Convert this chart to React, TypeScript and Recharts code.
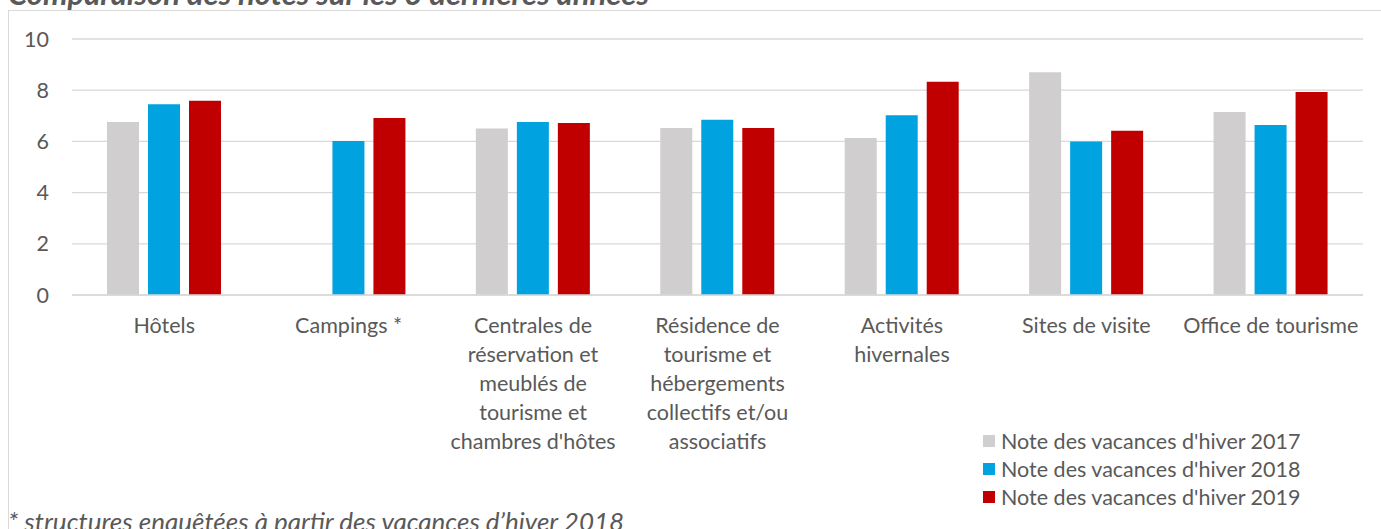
import { Bar, BarChart, CartesianGrid, XAxis, YAxis } from "recharts";

const categories = [
  "Hôtels",
  "Campings *",
  "Centrales de\nréservation et\nmeublés de\ntourisme et\nchambres d'hôtes",
  "Résidence de\ntourisme et\nhébergements\ncollectifs et/ou\nassociatifs",
  "Activités\nhivernales",
  "Sites de visite",
  "Office de tourisme",
];

const note2017 = [6.76, null, 6.5, 6.52, 6.13, 8.7, 7.15];
const note2018 = [7.45, 6.02, 6.76, 6.85, 7.02, 6.0, 6.64];
const note2019 = [7.59, 6.91, 6.72, 6.52, 8.33, 6.42, 7.93];

const yTicks = [0, 2, 4, 6, 8, 10];

const seriesNames = [
  "Note des vacances d'hiver 2017",
  "Note des vacances d'hiver 2018",
  "Note des vacances d'hiver 2019",
];
const colors = ["#D0CECE", "#00A2E0", "#C00000"];

const data = categories.map((name, i) => ({
  name,
  n2017: note2017[i],
  n2018: note2018[i],
  n2019: note2019[i],
}));

const FONT = "Lato, 'Open Sans', sans-serif";
const GREY = "#595959";
const FS = 21.5;

function CategoryTick({ x, y, payload }: any) {
  const lines = String(payload.value).split("\n");
  return (
    <text
      x={x}
      y={y}
      textAnchor="middle"
      fill={GREY}
      fontSize={FS}
      fontFamily={FONT}
    >
      {lines.map((line, i) => (
        <tspan key={i} x={x} dy={i === 0 ? 30 : 29}>
          {line}
        </tspan>
      ))}
    </text>
  );
}

function LegendBox() {
  return (
    <div
      style={{
        position: "absolute",
        left: 983,
        top: 427,
        fontFamily: FONT,
        fontSize: FS,
        color: GREY,
        whiteSpace: "nowrap",
      }}
    >
      {seriesNames.map((s, i) => (
        <div
          key={s}
          style={{ display: "flex", alignItems: "center", height: 28 }}
        >
          <span
            style={{
              width: 12,
              height: 12,
              background: colors[i],
              marginRight: 6,
              display: "inline-block",
            }}
          />
          {s}
        </div>
      ))}
    </div>
  );
}

export default function App() {
  return (
    <div
      style={{
        position: "relative",
        width: 1381,
        height: 529,
        overflow: "hidden",
        background: "#fff",
        fontFamily: FONT,
      }}
    >
      <style>{`body{margin:0}`}</style>
      <div
        style={{
          position: "absolute",
          left: 8,
          top: 10,
          width: 1400,
          height: 600,
          border: "1px solid #d9d9d9",
        }}
      />
      <div
        style={{
          position: "absolute",
          left: 8,
          top: -26,
          fontSize: 31,
          fontWeight: 700,
          fontStyle: "italic",
          color: GREY,
          whiteSpace: "nowrap",
          lineHeight: "38px",
        }}
      >
        Comparaison des notes sur les 3 dernières années
      </div>
      <div style={{ position: "absolute", left: 0, top: 0 }}>
        <BarChart
          width={1381}
          height={529}
          data={data}
          margin={{ top: 39, right: 18, left: 0, bottom: 0 }}
          barSize={32}
          barGap={9}
        >
          <CartesianGrid vertical={false} stroke="#d9d9d9" strokeWidth={1.3} />
          <XAxis
            dataKey="name"
            height={234}
            interval={0}
            tickLine={false}
            axisLine={{ stroke: "#d9d9d9", strokeWidth: 1.3 }}
            tick={<CategoryTick />}
          />
          <YAxis
            width={72}
            domain={[0, 10]}
            ticks={yTicks}
            axisLine={false}
            tickLine={false}
            tickMargin={17}
            tick={{ fill: GREY, fontSize: FS, fontFamily: FONT }}
          />
          <Bar dataKey="n2017" name={seriesNames[0]} fill={colors[0]} isAnimationActive={false} />
          <Bar dataKey="n2018" name={seriesNames[1]} fill={colors[1]} isAnimationActive={false} />
          <Bar dataKey="n2019" name={seriesNames[2]} fill={colors[2]} isAnimationActive={false} />
        </BarChart>
      </div>
      <LegendBox />
      <div
        style={{
          position: "absolute",
          left: 8,
          top: 505,
          fontSize: 26,
          fontStyle: "italic",
          color: GREY,
          whiteSpace: "nowrap",
          lineHeight: "32px",
        }}
      >
        * structures enquêtées à partir des vacances d’hiver 2018
      </div>
    </div>
  );
}
